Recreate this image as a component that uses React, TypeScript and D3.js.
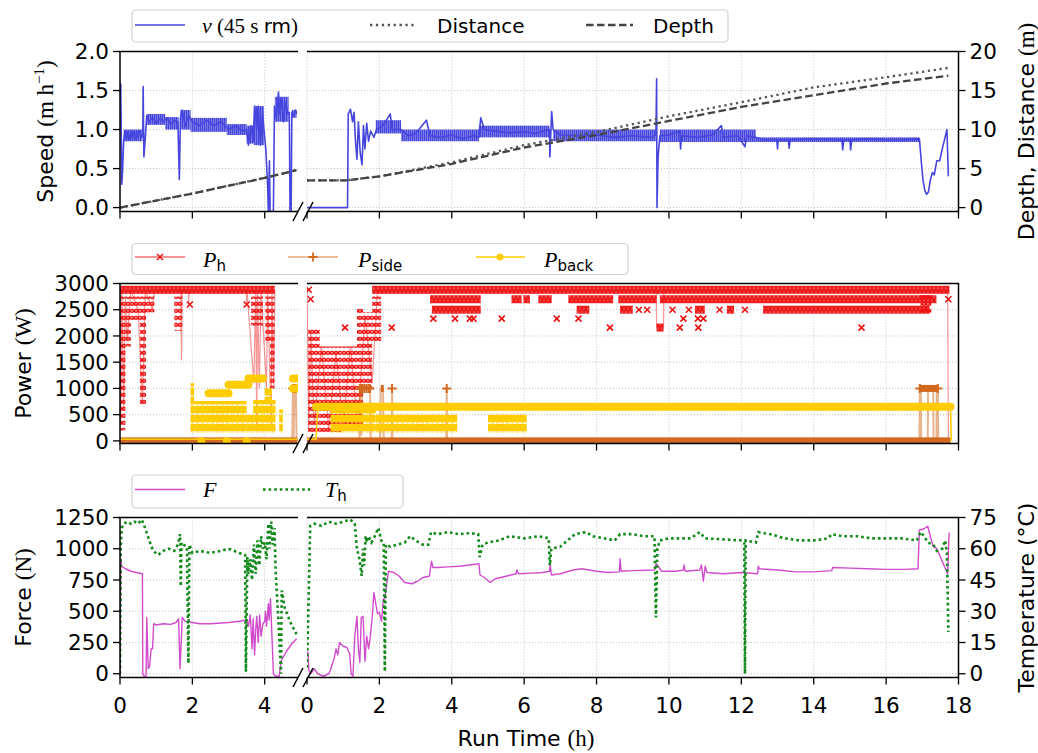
import React from 'react';
import * as d3 from 'd3';

type P = [number, number];
type Row = [number, number, number];
type Block = [number, number, number, number];

// ---------- ticks ----------
const XT_L = [0, 2, 4];
const XT_R = [0, 2, 4, 6, 8, 10, 12, 14, 16, 18];
const SPEED_TICKS = [0, 0.5, 1.0, 1.5, 2.0];
const DIST_TICKS = [0, 5, 10, 15, 20];
const POWER_TICKS = [0, 500, 1000, 1500, 2000, 2500, 3000];
const FORCE_TICKS = [0, 250, 500, 750, 1000, 1250];
const TEMP_TICKS = [0, 15, 30, 45, 60, 75];

// ---------- speed (m/h) ----------
const SPEED_L: P[] = [[0,1.6],[0.02,1.58],[0.05,0.3],[0.07,0.45],[0.1,0.85],[0.14,0.98],[0.18,0.86],[0.22,0.97],[0.26,0.87],[0.3,0.98],[0.34,0.88],[0.38,0.97],[0.42,0.88],[0.46,0.98],[0.5,0.9],[0.55,0.98],[0.6,0.9],[0.63,0.95],[0.64,1.55],[0.66,0.65],[0.7,0.9],[0.74,1.18],[0.8,1.1],[0.9,1.15],[1.0,1.08],[1.1,1.14],[1.2,1.1],[1.3,1.15],[1.4,1.07],[1.5,1.12],[1.6,1.1],[1.64,0.36],[1.67,1.15],[1.72,1.25],[1.8,1.05],[1.9,1.18],[2.0,1.1],[2.2,1.05],[2.4,1.12],[2.6,1.05],[2.8,1.1],[3.0,1.0],[3.2,1.05],[3.4,0.98],[3.5,1.0],[3.55,0.8],[3.62,1.05],[3.68,0.85],[3.72,1.3],[3.78,1.0],[3.82,1.3],[3.88,0.8],[3.94,1.2],[3.98,1.0],[4.03,0.75],[4.08,0.3],[4.1,-0.05],[4.13,0.6],[4.15,-0.05],[4.24,-0.05],[4.27,1.3],[4.32,1.15],[4.38,1.48],[4.42,1.2],[4.48,1.4],[4.52,1.1],[4.58,1.35],[4.64,1.2],[4.68,1.22],[4.7,-0.05],[4.73,-0.05],[4.75,1.22],[4.8,1.18],[4.85,1.25],[4.88,1.2]];
const SPEED_BANDS_L: Block[] = [[0.1,0.62,0.85,1.0],[0.74,1.25,1.06,1.2],[1.25,1.62,1.0,1.16],[1.67,1.95,1.0,1.25],[1.95,2.95,0.97,1.15],[2.95,3.5,0.93,1.07],[3.5,3.7,0.82,1.05],[3.7,3.98,0.8,1.3],[4.28,4.66,1.1,1.42],[4.75,4.88,1.15,1.25]];
const SPEED_R: P[] = [[0,0],[1.12,0],[1.14,1.2],[1.2,1.26],[1.26,1.1],[1.3,1.22],[1.34,0.85],[1.38,0.62],[1.42,1.1],[1.47,0.7],[1.52,0.55],[1.56,1.05],[1.6,0.75],[1.65,1.08],[1.7,0.85],[1.76,0.98],[1.85,0.9],[1.92,1.0],[2.1,1.05],[2.3,1.2],[2.35,1.0],[2.6,1.0],[2.8,0.92],[3.0,0.95],[3.3,1.12],[3.4,0.92],[3.7,0.9],[4.0,0.93],[4.3,0.88],[4.6,0.92],[4.75,0.9],[4.8,1.15],[4.9,1.0],[5.2,0.98],[5.6,0.96],[6.0,0.97],[6.3,0.95],[6.7,1.0],[6.71,0.65],[6.76,1.23],[6.8,1.0],[7.0,0.93],[7.5,0.92],[8.0,0.93],[8.5,0.9],[9.0,0.92],[9.5,0.9],[9.64,0.93],[9.66,1.65],[9.67,0.0],[9.7,0.65],[9.75,0.92],[10.0,0.93],[10.3,0.98],[10.32,0.75],[10.35,0.92],[10.8,0.9],[11.2,0.93],[11.45,1.05],[11.5,0.9],[11.9,0.92],[12.1,0.78],[12.15,0.92],[12.4,0.9],[12.6,0.87],[12.98,0.87],[13.0,0.75],[13.02,0.87],[13.3,0.87],[13.32,0.76],[13.35,0.87],[14.0,0.88],[14.78,0.87],[14.8,0.74],[14.83,0.87],[15.0,0.87],[15.02,0.74],[15.05,0.87],[15.5,0.88],[16.0,0.87],[16.5,0.87],[16.92,0.88],[16.97,0.6],[17.02,0.35],[17.07,0.22],[17.12,0.17],[17.17,0.2],[17.22,0.35],[17.28,0.45],[17.33,0.42],[17.4,0.6],[17.48,0.6],[17.55,0.75],[17.62,0.88],[17.68,1.0],[17.72,0.4]];
const SPEED_BANDS_R: Block[] = [[1.9,2.6,0.95,1.12],[2.6,4.75,0.85,1.0],[4.75,6.7,0.9,1.05],[6.8,9.64,0.85,1.0],[9.75,12.4,0.84,1.0],[12.4,16.92,0.84,0.9]];

// ---------- distance / depth (m) ----------
const DIST_L: P[] = [[0,0],[1,0.9],[2,1.8],[3,2.8],[4,3.8],[4.88,4.8]];
const DEPTH_L: P[] = [[0,0],[1,0.9],[2,1.8],[3,2.8],[4,3.8],[4.88,4.8]];
const DIST_R: P[] = [[0,3.5],[1.1,3.5],[2,4.0],[4,5.8],[6,8.0],[8,9.7],[10,11.7],[12,13.5],[14,15.4],[16,16.7],[17.72,17.9]];
const DEPTH_R: P[] = [[0,3.5],[1.1,3.5],[2,4.0],[4,5.6],[6,7.7],[8,9.3],[10,11.1],[12,12.9],[14,14.4],[16,15.9],[17.72,16.9]];

// ---------- power (W) ----------
const PH_LINE_L: P[] = [[0,2880],[0.02,300],[0.05,2880],[0.1,600],[0.15,2700],[0.2,1900],[0.3,2880],[0.5,2500],[0.62,700],[0.7,2880],[0.9,2500],[0.95,2880],[1.68,2880],[1.7,1530],[1.72,2880],[1.89,2880],[1.9,2600],[1.91,2880],[3.49,2880],[3.5,2600],[3.51,2880],[3.7,1100],[3.75,2880],[3.78,250],[3.8,2880],[3.85,1000],[3.9,2880],[4.05,1000],[4.08,2880],[4.18,240],[4.2,2880],[4.25,1000],[4.28,2880]];
const PH_ROWS_L: Row[] = [[0,4.28,2880]];
const PH_BLOCKS_L: Block[] = [[0,0.15,200,2750],[0.15,0.3,1800,2750],[0.3,0.55,2300,2750],[0.55,0.72,700,2750],[0.72,0.95,2450,2750],[1.5,1.72,2100,2750],[3.62,3.95,2200,2750],[4.02,4.15,1900,2750],[4.15,4.27,1000,2750]];
const PH_PTS_L: P[] = [[1.93,2600],[3.5,2600]];

const PH_LINE_R: P[] = [[0,2880],[0.05,200],[0.1,2100],[0.2,300],[0.4,1800],[0.6,200],[0.8,1700],[1.0,300],[1.2,1800],[1.4,250],[1.6,2400],[1.8,1100],[1.95,2880],[9.65,2880],[9.66,2150],[9.85,2150],[9.86,2880],[17.7,2880],[17.72,0]];
const PH_ROWS_R: Row[] = [[1.8,17.75,2880],[3.4,4.8,2700],[5.65,5.93,2700],[5.98,6.16,2700],[6.39,6.76,2700],[7.22,8.46,2700],[8.6,9.66,2700],[9.75,17.39,2700],[3.45,4.8,2500],[7.45,7.8,2500],[8.65,9.0,2500],[12.9,17.2,2500],[9.66,9.85,2160],[10.72,10.99,2500],[11.6,11.8,2500],[12.6,12.9,2500]];
const PH_BLOCKS_R: Block[] = [[0.03,0.35,150,2150],[0.35,0.95,150,1800],[0.95,1.38,250,1800],[1.38,1.55,200,2550],[1.55,1.8,1000,2450],[1.8,2.05,1900,2750],[16.95,17.25,2440,2780]];
const PH_PTS_R: P[] = [[0.05,2880],[0.1,2700],[9.17,2500],[9.4,2500],[10.1,2500],[10.55,2500],[11.4,2500],[12.1,2500],[3.49,2330],[4.09,2330],[4.5,2330],[4.6,2330],[5.38,2330],[6.9,2330],[7.5,2330],[10.4,2330],[10.8,2330],[10.95,2330],[1.05,2160],[2.34,2160],[8.37,2160],[10.3,2160],[10.81,2160],[15.32,2160],[17.72,2700]];

const PSIDE_LINE_L: P[] = [[0,0],[4.76,0],[4.78,1000],[4.8,80],[4.82,1000],[4.86,1000],[4.88,0],[4.9,0]];
const PSIDE_ROWS_L: Row[] = [[0,4.9,0]];
const PSIDE_PTS_L: P[] = [[4.78,1000],[4.82,1000],[4.86,1000]];
const PSIDE_LINE_R: P[] = [[0,0],[1.45,0],[1.46,1000],[1.5,100],[1.52,1000],[1.74,1000],[1.76,0],[2.02,0],[2.04,1000],[2.1,1000],[2.12,0],[2.34,0],[2.35,1000],[2.36,0],[3.85,0],[3.86,1000],[3.87,0],[16.92,0],[16.93,1000],[16.96,1000],[16.97,0],[17.15,0],[17.16,1000],[17.3,1000],[17.31,0],[17.39,0],[17.4,1000],[17.43,1000],[17.44,0],[17.78,0]];
const PSIDE_ROWS_R: Row[] = [[0,17.78,0],[16.93,17.43,1000],[2.04,2.12,1000]];
const PSIDE_PTS_R: P[] = [[1.46,1000],[1.52,1000],[1.58,1000],[1.64,1000],[1.7,1000],[1.74,1000],[2.35,1000],[3.86,1000],[16.93,1000],[17.43,1000]];

const PBACK_LINE_L: P[] = [[0,30],[4.9,30]];
const PBACK_ROWS_L: Row[] = [[2.45,3.0,910],[3.0,3.55,1070],[3.55,3.95,1190],[4.78,4.88,1190],[4.78,4.88,1000]];
const PBACK_BLOCKS_L: Block[] = [[1.95,2.05,150,1100],[2.05,3.5,150,760],[3.5,3.68,150,500],[3.68,4.3,150,780],[4.0,4.2,720,1000],[4.4,4.5,150,600]];
const PBACK_PTS_L: P[] = [[2.25,0],[2.95,0],[3.5,0]];
const PBACK_LINE_R: P[] = [[0,30],[0.25,30],[0.3,650],[17.78,650],[17.8,0]];
const PBACK_ROWS_R: Row[] = [[0.25,17.78,650]];
const PBACK_BLOCKS_R: Block[] = [[0.65,1.9,150,600],[1.9,4.15,150,520],[5.0,6.07,150,520]];

// ---------- force (N) / temperature (°C) ----------
const F_L: P[] = [[0,0],[0.02,920],[0.05,860],[0.15,840],[0.3,820],[0.45,810],[0.62,800],[0.63,0],[0.66,-20],[0.72,-20],[0.74,450],[0.78,40],[0.82,60],[0.86,200],[0.9,200],[0.93,400],[1.0,390],[1.2,400],[1.4,395],[1.55,410],[1.62,440],[1.66,40],[1.7,300],[1.72,450],[1.8,420],[2.0,410],[2.2,400],[2.5,400],[3.0,410],[3.3,420],[3.5,430],[3.55,380],[3.6,470],[3.65,200],[3.68,440],[3.72,150],[3.75,350],[3.78,460],[3.82,250],[3.86,470],[3.9,300],[3.95,400],[4.0,420],[4.02,500],[4.05,380],[4.1,560],[4.12,430],[4.16,600],[4.2,300],[4.24,0],[4.3,-20],[4.4,-20],[4.45,100],[4.6,180],[4.75,240],[4.88,280]];
const F_R: P[] = [[0,170],[0.03,170],[0.05,30],[0.1,0],[0.2,40],[0.3,0],[0.45,-20],[0.6,0],[0.65,30],[0.7,80],[0.75,120],[0.8,200],[0.85,150],[0.9,250],[1.0,220],[1.1,210],[1.18,160],[1.22,0],[1.27,-20],[1.32,300],[1.38,460],[1.42,200],[1.46,90],[1.5,450],[1.55,460],[1.6,100],[1.65,300],[1.7,200],[1.75,300],[1.8,450],[1.85,650],[1.9,560],[1.95,480],[2.0,490],[2.06,420],[2.11,600],[2.15,600],[2.25,820],[2.4,810],[2.55,780],[2.7,730],[2.9,720],[3.05,740],[3.2,770],[3.38,780],[3.44,900],[3.48,850],[3.6,850],[3.9,855],[4.2,860],[4.5,870],[4.75,880],[4.78,790],[4.9,770],[5.06,730],[5.2,760],[5.5,780],[5.78,800],[5.8,830],[5.85,800],[6.2,805],[6.5,810],[6.7,820],[6.72,880],[6.75,790],[7.0,800],[7.35,830],[7.6,840],[8.0,820],[8.3,810],[8.63,815],[8.65,920],[8.68,820],[9.0,825],[9.6,830],[9.65,880],[9.7,860],[9.8,820],[10.2,820],[10.4,830],[10.42,870],[10.45,820],[10.85,830],[10.9,870],[10.95,740],[11.0,860],[11.05,810],[11.5,800],[12.0,810],[12.45,800],[12.47,860],[12.5,840],[13.0,830],[13.5,815],[14.0,815],[14.5,825],[14.52,850],[15.0,845],[15.5,840],[16.0,835],[16.5,835],[16.88,840],[16.92,1150],[17.05,1160],[17.15,1180],[17.22,1100],[17.3,1020],[17.4,1000],[17.55,900],[17.7,800],[17.74,1130]];
const T_L: P[] = [[0,0],[0.02,60],[0.05,70],[0.1,72],[0.2,73],[0.3,72],[0.4,73],[0.5,72],[0.6,74],[0.65,72],[0.75,67],[0.85,62],[0.92,59],[1.05,57],[1.2,59],[1.35,60],[1.5,59],[1.6,62],[1.66,67],[1.68,42],[1.7,63],[1.75,62],[1.85,61],[1.89,5],[1.92,62],[2.0,58],[2.2,59],[2.5,58],[2.8,59],[3.0,60],[3.15,59],[3.3,58],[3.46,57],[3.48,1],[3.52,56],[3.55,48],[3.6,55],[3.65,45],[3.7,62],[3.75,48],[3.8,64],[3.85,52],[3.9,66],[3.95,60],[4.0,63],[4.05,55],[4.1,72],[4.13,60],[4.18,73],[4.22,62],[4.27,70],[4.3,50],[4.38,25],[4.45,0],[4.47,40],[4.55,32],[4.7,25],[4.88,19]];
const T_R: P[] = [[0,3],[0.05,40],[0.09,71],[0.2,72],[0.4,71],[0.6,73],[0.8,72],[1.0,73],[1.2,74],[1.32,72],[1.38,60],[1.45,55],[1.51,47],[1.55,60],[1.58,52],[1.62,66],[1.65,63],[1.7,66],[1.78,63],[1.85,65],[1.97,70],[2.05,64],[2.12,63],[2.15,1],[2.18,62],[2.3,61],[2.5,62],[2.7,63],[2.85,66],[3.0,64],[3.2,62],[3.35,62],[3.43,68],[3.6,67],[3.9,68],[4.2,67],[4.5,67.5],[4.73,67],[4.77,56],[4.85,62],[5.0,63],[5.3,64],[5.6,66],[6.0,65],[6.4,66],[6.68,65],[6.71,52],[6.75,60],[7.0,61],[7.2,64],[7.4,67],[7.7,68],[7.9,66],[8.2,65],[8.5,64],[8.65,67],[9.0,67],[9.3,66],[9.6,66],[9.64,27],[9.68,60],[9.75,64],[10.0,65],[10.3,65],[10.6,65],[10.85,68],[11.0,65],[11.5,64.5],[12.0,64],[12.08,63],[12.1,0],[12.12,64],[12.4,63],[12.47,68],[12.8,67],[13.2,65],[13.6,64],[14.0,64],[14.4,65],[14.5,67],[14.8,66],[15.2,66],[15.6,65],[16.0,65],[16.4,65],[16.85,64],[16.95,68],[17.05,66],[17.15,63],[17.3,62],[17.4,59],[17.55,60],[17.63,64],[17.68,58],[17.72,20]];

// ---------- styles ----------
const BLUE = '#4646de', RED = '#ee1111', ORANGE = '#d2691e', GOLD = '#ffcc00', MAG = '#d04ccc', GREEN = '#12891a', GREY = '#444444';
const SANS = 'DejaVu Sans', SERIF = 'Liberation Serif';
const FS = 20;      // legend
const FT = 21.5;    // tick labels
const FL = 22;      // axis labels

// ---------- geometry ----------
const W = 1038, H = 753;
const XL0 = 120, XL1 = 298, XR0 = 307, XR1 = 958.5;
const xL = d3.scaleLinear().domain([0, 4.92]).range([XL0, XL1]);
const xR = d3.scaleLinear().domain([0, 18]).range([XR0, XR1]);
const PT = [51.5, 283.5, 517.5];
const PB = [211.5, 443.5, 677.5];
const ySpeed = d3.scaleLinear().domain([-0.05, 2]).range([PB[0], PT[0]]);
const yDist = d3.scaleLinear().domain([-0.5, 20]).range([PB[0], PT[0]]);
const yPow = d3.scaleLinear().domain([-50, 3000]).range([PB[1], PT[1]]);
const yForce = d3.scaleLinear().domain([-30, 1250]).range([PB[2], PT[2]]);
const yTemp = d3.scaleLinear().domain([-1.8, 75]).range([PB[2], PT[2]]);

const lineOf = (x: any, y: any, data: P[]) => d3.line<P>().x(d => x(d[0])).y(d => y(d[1]))(data) || '';

const xPath = (cx: number, cy: number, s: number) => `M${cx - s},${cy - s}L${cx + s},${cy + s}M${cx + s},${cy - s}L${cx - s},${cy + s}`;
const plusPath = (cx: number, cy: number, s: number) => `M${cx - s},${cy}L${cx + s},${cy}M${cx},${cy - s}L${cx},${cy + s}`;

function Grid({ i, y, ticks }: any) {
  const top = PT[i], bot = PB[i];
  const gs = { stroke: '#bdbdbd', strokeWidth: 0.9, strokeDasharray: '1 2' };
  return (
    <g>
      {XT_L.map(t => <line key={'gl' + t} x1={xL(t)} x2={xL(t)} y1={top} y2={bot} {...gs} />)}
      {XT_R.map(t => <line key={'gr' + t} x1={xR(t)} x2={xR(t)} y1={top} y2={bot} {...gs} />)}
      {ticks.map((t: number) => (
        <g key={'h' + t}>
          <line x1={XL0} x2={XL1} y1={y(t)} y2={y(t)} {...gs} />
          <line x1={XR0} x2={XR1} y1={y(t)} y2={y(t)} {...gs} />
        </g>
      ))}
    </g>
  );
}

function Axes({ i, yLeft, ticksL, fmtL, yRight, ticksR, fmtR, xLabels }: any) {
  const top = PT[i], bot = PB[i];
  const sp = { stroke: '#000', strokeWidth: 1.5, fill: 'none' };
  return (
    <g>
      <path d={`M${XL1},${top}H${XL0}V${bot}H${XL1}`} {...sp} />
      <path d={`M${XR0},${top}H${XR1}V${bot}H${XR0}`} {...sp} />
      <line x1={XL1 - 5} y1={bot + 9.5} x2={XL1 + 5} y2={bot - 9.5} stroke="#000" strokeWidth={1.5} />
      <line x1={XR0 - 4} y1={bot + 9.5} x2={XR0 + 6} y2={bot - 9.5} stroke="#000" strokeWidth={1.5} />
      {XT_L.map(t => <line key={'tl' + t} x1={xL(t)} x2={xL(t)} y1={bot} y2={bot + 7} stroke="#000" strokeWidth={1.3} />)}
      {XT_R.map(t => <line key={'tr' + t} x1={xR(t)} x2={xR(t)} y1={bot} y2={bot + 7} stroke="#000" strokeWidth={1.3} />)}
      {ticksL.map((t: number) => (
        <g key={'yl' + t}>
          <line x1={XL0 - 7} x2={XL0} y1={yLeft(t)} y2={yLeft(t)} stroke="#000" strokeWidth={1.3} />
          <text x={XL0 - 11} y={yLeft(t)} dy="0.36em" textAnchor="end" fontSize={FT} fontFamily={SANS}>{fmtL(t)}</text>
        </g>
      ))}
      {yRight && ticksR.map((t: number) => (
        <g key={'yr' + t}>
          <line x1={XR1} x2={XR1 + 7} y1={yRight(t)} y2={yRight(t)} stroke="#000" strokeWidth={1.3} />
          <text x={XR1 + 11} y={yRight(t)} dy="0.36em" textAnchor="start" fontSize={FT} fontFamily={SANS}>{fmtR(t)}</text>
        </g>
      ))}
      {xLabels && XT_L.map(t => <text key={'xl' + t} x={xL(t)} y={713} textAnchor="middle" fontSize={FT} fontFamily={SANS}>{t}</text>)}
      {xLabels && XT_R.map(t => <text key={'xr' + t} x={xR(t)} y={713} textAnchor="middle" fontSize={FT} fontFamily={SANS}>{t}</text>)}
    </g>
  );
}

function SpeedSub({ x, speed, bands, dist, depth }: any) {
  return (
    <g>
      {bands.map((b: Block, k: number) => (
        <rect key={k} x={x(b[0])} y={ySpeed(b[3])} width={x(b[1]) - x(b[0])} height={ySpeed(b[2]) - ySpeed(b[3])} fill="url(#vpat)" />
      ))}
      <path d={lineOf(x, ySpeed, speed)} fill="none" stroke={BLUE} strokeWidth={1.6} strokeLinejoin="round" />
      <path d={lineOf(x, yDist, dist)} fill="none" stroke="#555" strokeWidth={2.3} strokeDasharray="2.3 3.6" />
      <path d={lineOf(x, yDist, depth)} fill="none" stroke={GREY} strokeWidth={2.3} strokeDasharray="7.5 3.5" />
    </g>
  );
}

function PowerSub({ x, phLine, phRows, phBlocks, phPts, psLine, psRows, psPts, pbLine, pbRows, pbBlocks, pbPts }: any) {
  return (
    <g>
      <path d={lineOf(x, yPow, phLine)} fill="none" stroke={RED} strokeOpacity={0.45} strokeWidth={1.2} />
      {phRows.map((r: Row, k: number) => (
        <rect key={'pr' + k} x={x(r[0])} y={yPow(r[2]) - 4} width={x(r[1]) - x(r[0])} height={8} fill="url(#xrow)" />
      ))}
      {phBlocks.map((b: Block, k: number) => (
        <rect key={'pb' + k} x={x(b[0])} y={yPow(b[3])} width={x(b[1]) - x(b[0])} height={yPow(b[2]) - yPow(b[3])} fill="url(#xpat)" />
      ))}
      {phPts.map((p: P, k: number) => (
        <path key={'pp' + k} d={xPath(x(p[0]), yPow(p[1]), 3)} stroke={RED} strokeWidth={1.6} />
      ))}
      <path d={lineOf(x, yPow, psLine)} fill="none" stroke={ORANGE} strokeOpacity={0.5} strokeWidth={2} />
      {psRows.map((r: Row, k: number) => (
        <rect key={'sr' + k} x={x(r[0])} y={yPow(r[2]) - 3.5} width={x(r[1]) - x(r[0])} height={7} fill={ORANGE} />
      ))}
      {psPts.map((p: P, k: number) => (
        <path key={'sp' + k} d={plusPath(x(p[0]), yPow(p[1]), 4.5)} stroke={ORANGE} strokeWidth={2} />
      ))}
      <path d={lineOf(x, yPow, pbLine)} fill="none" stroke={GOLD} strokeWidth={1.6} />
      {pbRows.map((r: Row, k: number) => (
        <line key={'br' + k} x1={x(r[0])} x2={x(r[1])} y1={yPow(r[2])} y2={yPow(r[2])} stroke={GOLD} strokeWidth={8} strokeLinecap="round" />
      ))}
      {pbBlocks.map((b: Block, k: number) => (
        <rect key={'bb' + k} x={x(b[0])} y={yPow(b[3])} width={x(b[1]) - x(b[0])} height={yPow(b[2]) - yPow(b[3])} fill="url(#opat)" />
      ))}
      {pbPts.map((p: P, k: number) => (
        <circle key={'bp' + k} cx={x(p[0])} cy={yPow(p[1])} r={4} fill={GOLD} />
      ))}
    </g>
  );
}

function ForceSub({ x, f, t }: any) {
  return (
    <g>
      <path d={lineOf(x, yForce, f)} fill="none" stroke={MAG} strokeWidth={1.4} strokeLinejoin="round" />
      <path d={lineOf(x, yTemp, t)} fill="none" stroke={GREEN} strokeWidth={2.6} strokeDasharray="2.6 3" />
    </g>
  );
}

export default function App() {
  const clip = (id: string, x0: number, x1: number, i: number) => (
    <clipPath id={id}><rect x={x0} y={PT[i]} width={x1 - x0} height={PB[i] - PT[i]} /></clipPath>
  );
  return (
    <svg width={W} height={H} style={{ position: 'absolute', left: 0, top: 0, background: '#fff' }} fontFamily={SANS}>
      <rect width={W} height={H} fill="#fff" />
      <defs>
        <pattern id="xpat" width="4" height="7" patternUnits="userSpaceOnUse">
          <path d="M0.2,1L3.8,4.6M3.8,1L0.2,4.6" stroke={RED} strokeWidth={1.6} />
        </pattern>
        <pattern id="xrow" width="4" height="8" patternUnits="userSpaceOnUse" y="0.5">
          <rect width="4" height="8" fill={RED} fillOpacity={0.75} />
          <path d="M0,0.5L4,7.5M4,0.5L0,7.5" stroke={RED} strokeWidth={1.6} />
        </pattern>
        <pattern id="opat" width="5" height="9" patternUnits="userSpaceOnUse">
          <circle cx="2.5" cy="4.5" r="4" fill={GOLD} />
        </pattern>
        <pattern id="vpat" width="2" height="4" patternUnits="userSpaceOnUse">
          <rect width="2" height="4" fill={BLUE} fillOpacity={0.55} />
          <rect width="1.4" height="4" fill={BLUE} />
        </pattern>
        {[0, 1, 2].map(i => (
          <g key={i}>
            {clip('cL' + i, XL0, XL1, i)}
            {clip('cR' + i, XR0, XR1, i)}
          </g>
        ))}
      </defs>

      {/* ---------- Panel 1 ---------- */}
      <Grid i={0} y={ySpeed} ticks={SPEED_TICKS} />
      <g clipPath="url(#cL0)"><SpeedSub x={xL} speed={SPEED_L} bands={SPEED_BANDS_L} dist={DIST_L} depth={DEPTH_L} /></g>
      <g clipPath="url(#cR0)"><SpeedSub x={xR} speed={SPEED_R} bands={SPEED_BANDS_R} dist={DIST_R} depth={DEPTH_R} /></g>
      <Axes i={0} yLeft={ySpeed} ticksL={SPEED_TICKS} fmtL={(v: number) => v.toFixed(1)} yRight={yDist} ticksR={DIST_TICKS} fmtR={(v: number) => String(v)} />

      {/* ---------- Panel 2 ---------- */}
      <Grid i={1} y={yPow} ticks={POWER_TICKS} />
      <g clipPath="url(#cL1)">
        <PowerSub x={xL} phLine={PH_LINE_L} phRows={PH_ROWS_L} phBlocks={PH_BLOCKS_L} phPts={PH_PTS_L}
          psLine={PSIDE_LINE_L} psRows={PSIDE_ROWS_L} psPts={PSIDE_PTS_L}
          pbLine={PBACK_LINE_L} pbRows={PBACK_ROWS_L} pbBlocks={PBACK_BLOCKS_L} pbPts={PBACK_PTS_L} />
      </g>
      <g clipPath="url(#cR1)">
        <PowerSub x={xR} phLine={PH_LINE_R} phRows={PH_ROWS_R} phBlocks={PH_BLOCKS_R} phPts={PH_PTS_R}
          psLine={PSIDE_LINE_R} psRows={PSIDE_ROWS_R} psPts={PSIDE_PTS_R}
          pbLine={PBACK_LINE_R} pbRows={PBACK_ROWS_R} pbBlocks={PBACK_BLOCKS_R} pbPts={[]} />
      </g>
      <Axes i={1} yLeft={yPow} ticksL={POWER_TICKS} fmtL={(v: number) => String(v)} />

      {/* ---------- Panel 3 ---------- */}
      <Grid i={2} y={yForce} ticks={FORCE_TICKS} />
      <g clipPath="url(#cL2)"><ForceSub x={xL} f={F_L} t={T_L} /></g>
      <g clipPath="url(#cR2)"><ForceSub x={xR} f={F_R} t={T_R} /></g>
      <Axes i={2} yLeft={yForce} ticksL={FORCE_TICKS} fmtL={(v: number) => String(v)} yRight={yTemp} ticksR={TEMP_TICKS} fmtR={(v: number) => String(v)} xLabels />

      {/* ---------- axis labels ---------- */}
      <text transform="translate(53,131.5) rotate(-90)" textAnchor="middle" fontSize={FL}>
        <tspan fontFamily={SANS}>Speed </tspan>
        <tspan fontFamily={SERIF} fontSize={23}>(m h</tspan>
        <tspan fontFamily={SERIF} fontSize={15} dy={-9}>−1</tspan>
        <tspan fontFamily={SERIF} fontSize={23} dy={9}>)</tspan>
      </text>
      <text transform="translate(31,363.5) rotate(-90)" textAnchor="middle" fontSize={FL}>
        <tspan fontFamily={SANS}>Power </tspan>
        <tspan fontFamily={SERIF} fontSize={23}>(W)</tspan>
      </text>
      <text transform="translate(31,597.5) rotate(-90)" textAnchor="middle" fontSize={FL}>
        <tspan fontFamily={SANS}>Force </tspan>
        <tspan fontFamily={SERIF} fontSize={23}>(N)</tspan>
      </text>
      <text transform="translate(1034,131.5) rotate(-90)" textAnchor="middle" fontSize={FL}>
        <tspan fontFamily={SANS}>Depth, Distance </tspan>
        <tspan fontFamily={SERIF} fontSize={23}>(m)</tspan>
      </text>
      <text transform="translate(1034,597.5) rotate(-90)" textAnchor="middle" fontSize={FL} fontFamily={SANS}>Temperature (°C)</text>
      <text x={526} y={746} textAnchor="middle" fontSize={FL}>
        <tspan fontFamily={SANS}>Run Time </tspan>
        <tspan fontFamily={SERIF} fontSize={23}>(h)</tspan>
      </text>

      {/* ---------- legends ---------- */}
      <g>
        <rect x={132} y={10} width={596} height={32} rx={4} fill="#fff" fillOpacity={0.85} stroke="#d0d0d0" strokeWidth={1.2} />
        <line x1={135} x2={185} y1={25} y2={25} stroke={BLUE} strokeWidth={1.6} />
        <text x={202} y={33} fontSize={FS}>
          <tspan fontFamily={SERIF} fontStyle="italic" fontSize={22}>v</tspan>
          <tspan fontFamily={SERIF} fontSize={21}> (45 s </tspan>
          <tspan fontFamily={SANS}>rm</tspan>
          <tspan fontFamily={SERIF} fontSize={21}>)</tspan>
        </text>
        <line x1={370} x2={417} y1={25} y2={25} stroke="#555" strokeWidth={2.3} strokeDasharray="2.3 3.6" />
        <text x={437} y={33} fontSize={FS} fontFamily={SANS}>Distance</text>
        <line x1={586} x2={633} y1={25} y2={25} stroke={GREY} strokeWidth={2.3} strokeDasharray="7.5 3.5" />
        <text x={653} y={33} fontSize={FS} fontFamily={SANS}>Depth</text>
      </g>
      <g>
        <rect x={132} y={243.5} width={496} height={31} rx={4} fill="#fff" fillOpacity={0.85} stroke="#d0d0d0" strokeWidth={1.2} />
        <line x1={135} x2={185} y1={257} y2={257} stroke={RED} strokeOpacity={0.6} strokeWidth={1.5} />
        <path d={xPath(160, 257, 3)} stroke={RED} strokeWidth={1.5} />
        <text x={203} y={267} fontSize={FS}>
          <tspan fontFamily={SERIF} fontStyle="italic" fontSize={22}>P</tspan>
          <tspan fontFamily={SANS} fontSize={15} dy={4}>h</tspan>
        </text>
        <line x1={288} x2={338} y1={257} y2={257} stroke={ORANGE} strokeOpacity={0.6} strokeWidth={1.5} />
        <path d={plusPath(313, 257, 4.5)} stroke={ORANGE} strokeWidth={1.8} />
        <text x={358} y={267} fontSize={FS}>
          <tspan fontFamily={SERIF} fontStyle="italic" fontSize={22}>P</tspan>
          <tspan fontFamily={SANS} fontSize={15} dy={4}>side</tspan>
        </text>
        <line x1={476} x2={525} y1={257} y2={257} stroke={GOLD} strokeWidth={1.5} />
        <circle cx={500} cy={257} r={3.5} fill={GOLD} />
        <text x={544} y={267} fontSize={FS}>
          <tspan fontFamily={SERIF} fontStyle="italic" fontSize={22}>P</tspan>
          <tspan fontFamily={SANS} fontSize={15} dy={4}>back</tspan>
        </text>
      </g>
      <g>
        <rect x={132} y={475} width={271} height={33} rx={4} fill="#fff" fillOpacity={0.85} stroke="#d0d0d0" strokeWidth={1.2} />
        <line x1={135} x2={185} y1={489.5} y2={489.5} stroke={MAG} strokeWidth={1.5} />
        <text x={203} y={497} fontSize={22} fontFamily={SERIF} fontStyle="italic">F</text>
        <line x1={263} x2={310} y1={489.5} y2={489.5} stroke={GREEN} strokeWidth={2.6} strokeDasharray="2.6 3" />
        <text x={325} y={497} fontSize={FS}>
          <tspan fontFamily={SERIF} fontStyle="italic" fontSize={22}>T</tspan>
          <tspan fontFamily={SANS} fontSize={15} dy={4}>h</tspan>
        </text>
      </g>
    </svg>
  );
}
